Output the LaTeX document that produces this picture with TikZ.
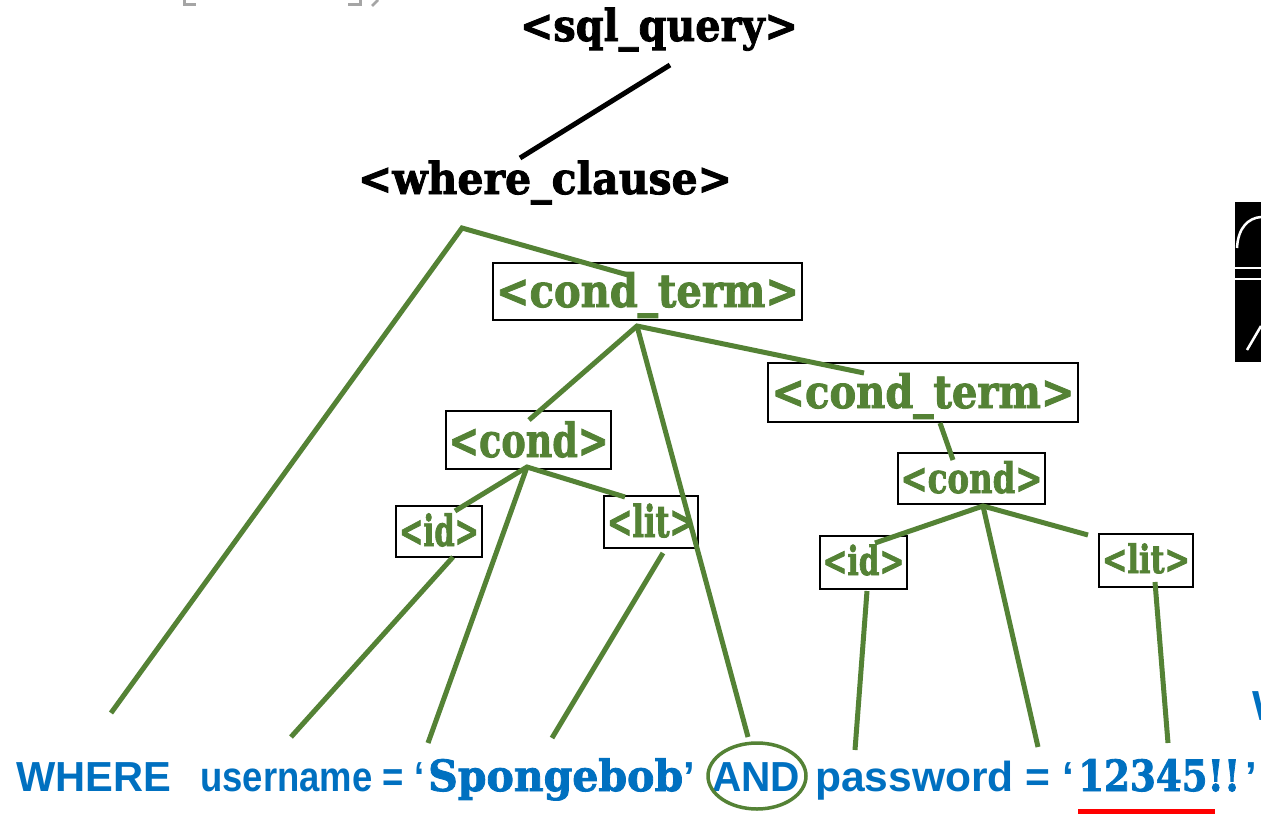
\documentclass[tikz,border=0pt]{standalone}
\usepackage{graphicx}
\usepackage{fontspec}
\setmainfont{Liberation Sans}
\newfontfamily\slabfont{DejaVu Serif}[BoldFeatures={FakeBold=2}]
\newfontfamily\sansfont{Liberation Sans}
\definecolor{grn}{RGB}{84,130,53}
\definecolor{sqlblue}{RGB}{0,112,192}
\definecolor{bgray}{RGB}{165,165,165}
\newlength\fitlen
\newcommand\fitto[2]{\settowidth{\fitlen}{#2}\pgfmathsetmacro\fitr{#1/\fitlen}\scalebox{\fitr}[1]{#2}}
\newcommand\fs[1]{\fontsize{#1}{#1}\selectfont}
\tikzset{
  gbox/.style={draw=black, line width=1.8pt, inner sep=0pt, anchor=base, text=grn, font=\slabfont\bfseries},
  blk/.style={inner sep=0pt, anchor=base, text=black, font=\slabfont\bfseries},
  bot/.style={inner sep=0pt, anchor=base west, text=sqlblue, font=\sansfont\bfseries},
  botslab/.style={bot, font=\slabfont\bfseries},
  gline/.style={draw=grn, line width=5pt},
  kline/.style={draw=black, line width=5pt},
}
\begin{document}
\begin{tikzpicture}[x=1pt,y=-1pt]
\useasboundingbox (0,0) rectangle (1261,814);
\clip (0,0) rectangle (1261,814);
\fill[white] (0,0) rectangle (1261,814);

% cropped fragments at the edges
\draw[bgray, line width=3pt] (184,0) -- (184,4.5) -- (196,4.5);
\draw[bgray, line width=3pt] (348,4.5) -- (360,4.5) -- (360,0);
\draw[bgray, line width=2.5pt] (378,0) -- (372,6);
\fill[black] (1235,202) rectangle (1261,362);
\draw[white, line width=2.5pt] (1237,248) .. controls (1238,228) and (1248,218) .. (1261,217);
\draw[white, line width=1.5pt] (1235,268) -- (1261,268);
\draw[white, line width=1.5pt] (1235,279) -- (1261,279);
\draw[white, line width=2.5pt] (1247,350) -- (1261,326);

% black labels
\node[blk] (sql) at (659,41) {\fs{44}\fitto{278}{<sql\_query>}};
\node[blk] (where) at (545,194) {\fs{44}\fitto{374}{<where\_clause>}};

% green boxes
\node[gbox, minimum width=309pt, text height=44pt, text depth=13pt] (ct1) at (647.5,307) {\fs{46}\fitto{303}{<cond\_term>}};
\node[gbox, minimum width=310pt, text height=45pt, text depth=14pt] (ct2) at (923,408) {\fs{46}\fitto{303}{<cond\_term>}};
\node[gbox, minimum width=165pt, text height=46pt, text depth=12pt] (c1) at (528.5,457) {\fs{47}\fitto{160}{<cond>}};
\node[gbox, minimum width=147pt, text height=40pt, text depth=11pt] (c2) at (971.5,493) {\fs{42}\fitto{142}{<cond>}};
\node[gbox, minimum width=86pt, text height=40pt, text depth=11pt] (id1) at (439,546) {\fs{43}\fitto{80}{<id>}};
\node[gbox, minimum width=94pt, text height=41pt, text depth=11pt] (l1) at (651,537) {\fs{44}\fitto{88}{<lit>}};
\node[gbox, minimum width=87pt, text height=39pt, text depth=14pt] (id2) at (863.5,575) {\fs{40}\fitto{82}{<id>}};
\node[gbox, minimum width=94pt, text height=39pt, text depth=14pt] (l2) at (1146,573) {\fs{39}\fitto{88}{<lit>}};

% bottom text
\node[bot] (wh) at (16,791) {\fs{42}\fitto{155}{WHERE}};
\node[bot] (un) at (200,791) {\fs{42}\fitto{224}{username = ‘}};
\node[botslab] (sp) at (428,791) {\fs{43}\fitto{255}{Spongebob}};
\node[bot] (q1) at (683,791) {\fs{42}’};
\node[bot] (andw) at (712,791) {\fs{42}\fitto{88}{AND}};
\node[bot] (pw) at (815,791) {\fs{42}\fitto{259}{password = ‘}};
\node[botslab] (num) at (1078,791) {\fs{43}\fitto{162}{12345!!}};
\node[bot] (q2) at (1245,791) {\fs{42}’};
\node[bot] (wcut) at (1252,720) {\fs{42}W};

% connector points
\coordinate (sqlb) at (670,65);
\coordinate (wheret) at (520,158);
\coordinate (w0) at (462,228);
\coordinate (wL) at (111,713);
\coordinate (ct1t) at (628,275);
\coordinate (b1) at (637,326);
\coordinate (c1t) at (529,420);
\coordinate (andt) at (748,737);
\coordinate (ct2t) at (864,373);
\coordinate (ct2b) at (940,423);
\coordinate (c2t) at (953,460);
\coordinate (b2) at (527,467);
\coordinate (id1t) at (455,511);
\coordinate (l1t) at (625,497);
\coordinate (eq1) at (428,743);
\coordinate (id1b) at (453,557);
\coordinate (unt) at (291,737);
\coordinate (l1b) at (663,553);
\coordinate (spt) at (552,738);
\coordinate (b3) at (983,506);
\coordinate (id2t) at (875,543);
\coordinate (l2t) at (1088,535);
\coordinate (eq2) at (1038,747);
\coordinate (id2b) at (867,591);
\coordinate (pwt) at (855,750);
\coordinate (l2b) at (1155,582);
\coordinate (numt) at (1168,743);

\draw[kline] (sqlb) -- (wheret);
\draw[gline] (wL) -- (w0) -- (ct1t);
\draw[gline] (c1t) -- (b1) -- (ct2t);
\draw[gline] (b1) -- (andt);
\draw[gline] (ct2b) -- (c2t);
\draw[gline] (id1t) -- (b2) -- (l1t);
\draw[gline] (b2) -- (eq1);
\draw[gline] (id1b) -- (unt);
\draw[gline] (l1b) -- (spt);
\draw[gline] (id2t) -- (b3) -- (l2t);
\draw[gline] (b3) -- (eq2);
\draw[gline] (id2b) -- (pwt);
\draw[gline] (l2b) -- (numt);

\draw[grn, line width=3.5pt] (757,776) ellipse [x radius=49, y radius=33];
\fill[red] (1078,809) rectangle (1215,814);
\end{tikzpicture}
\end{document}
